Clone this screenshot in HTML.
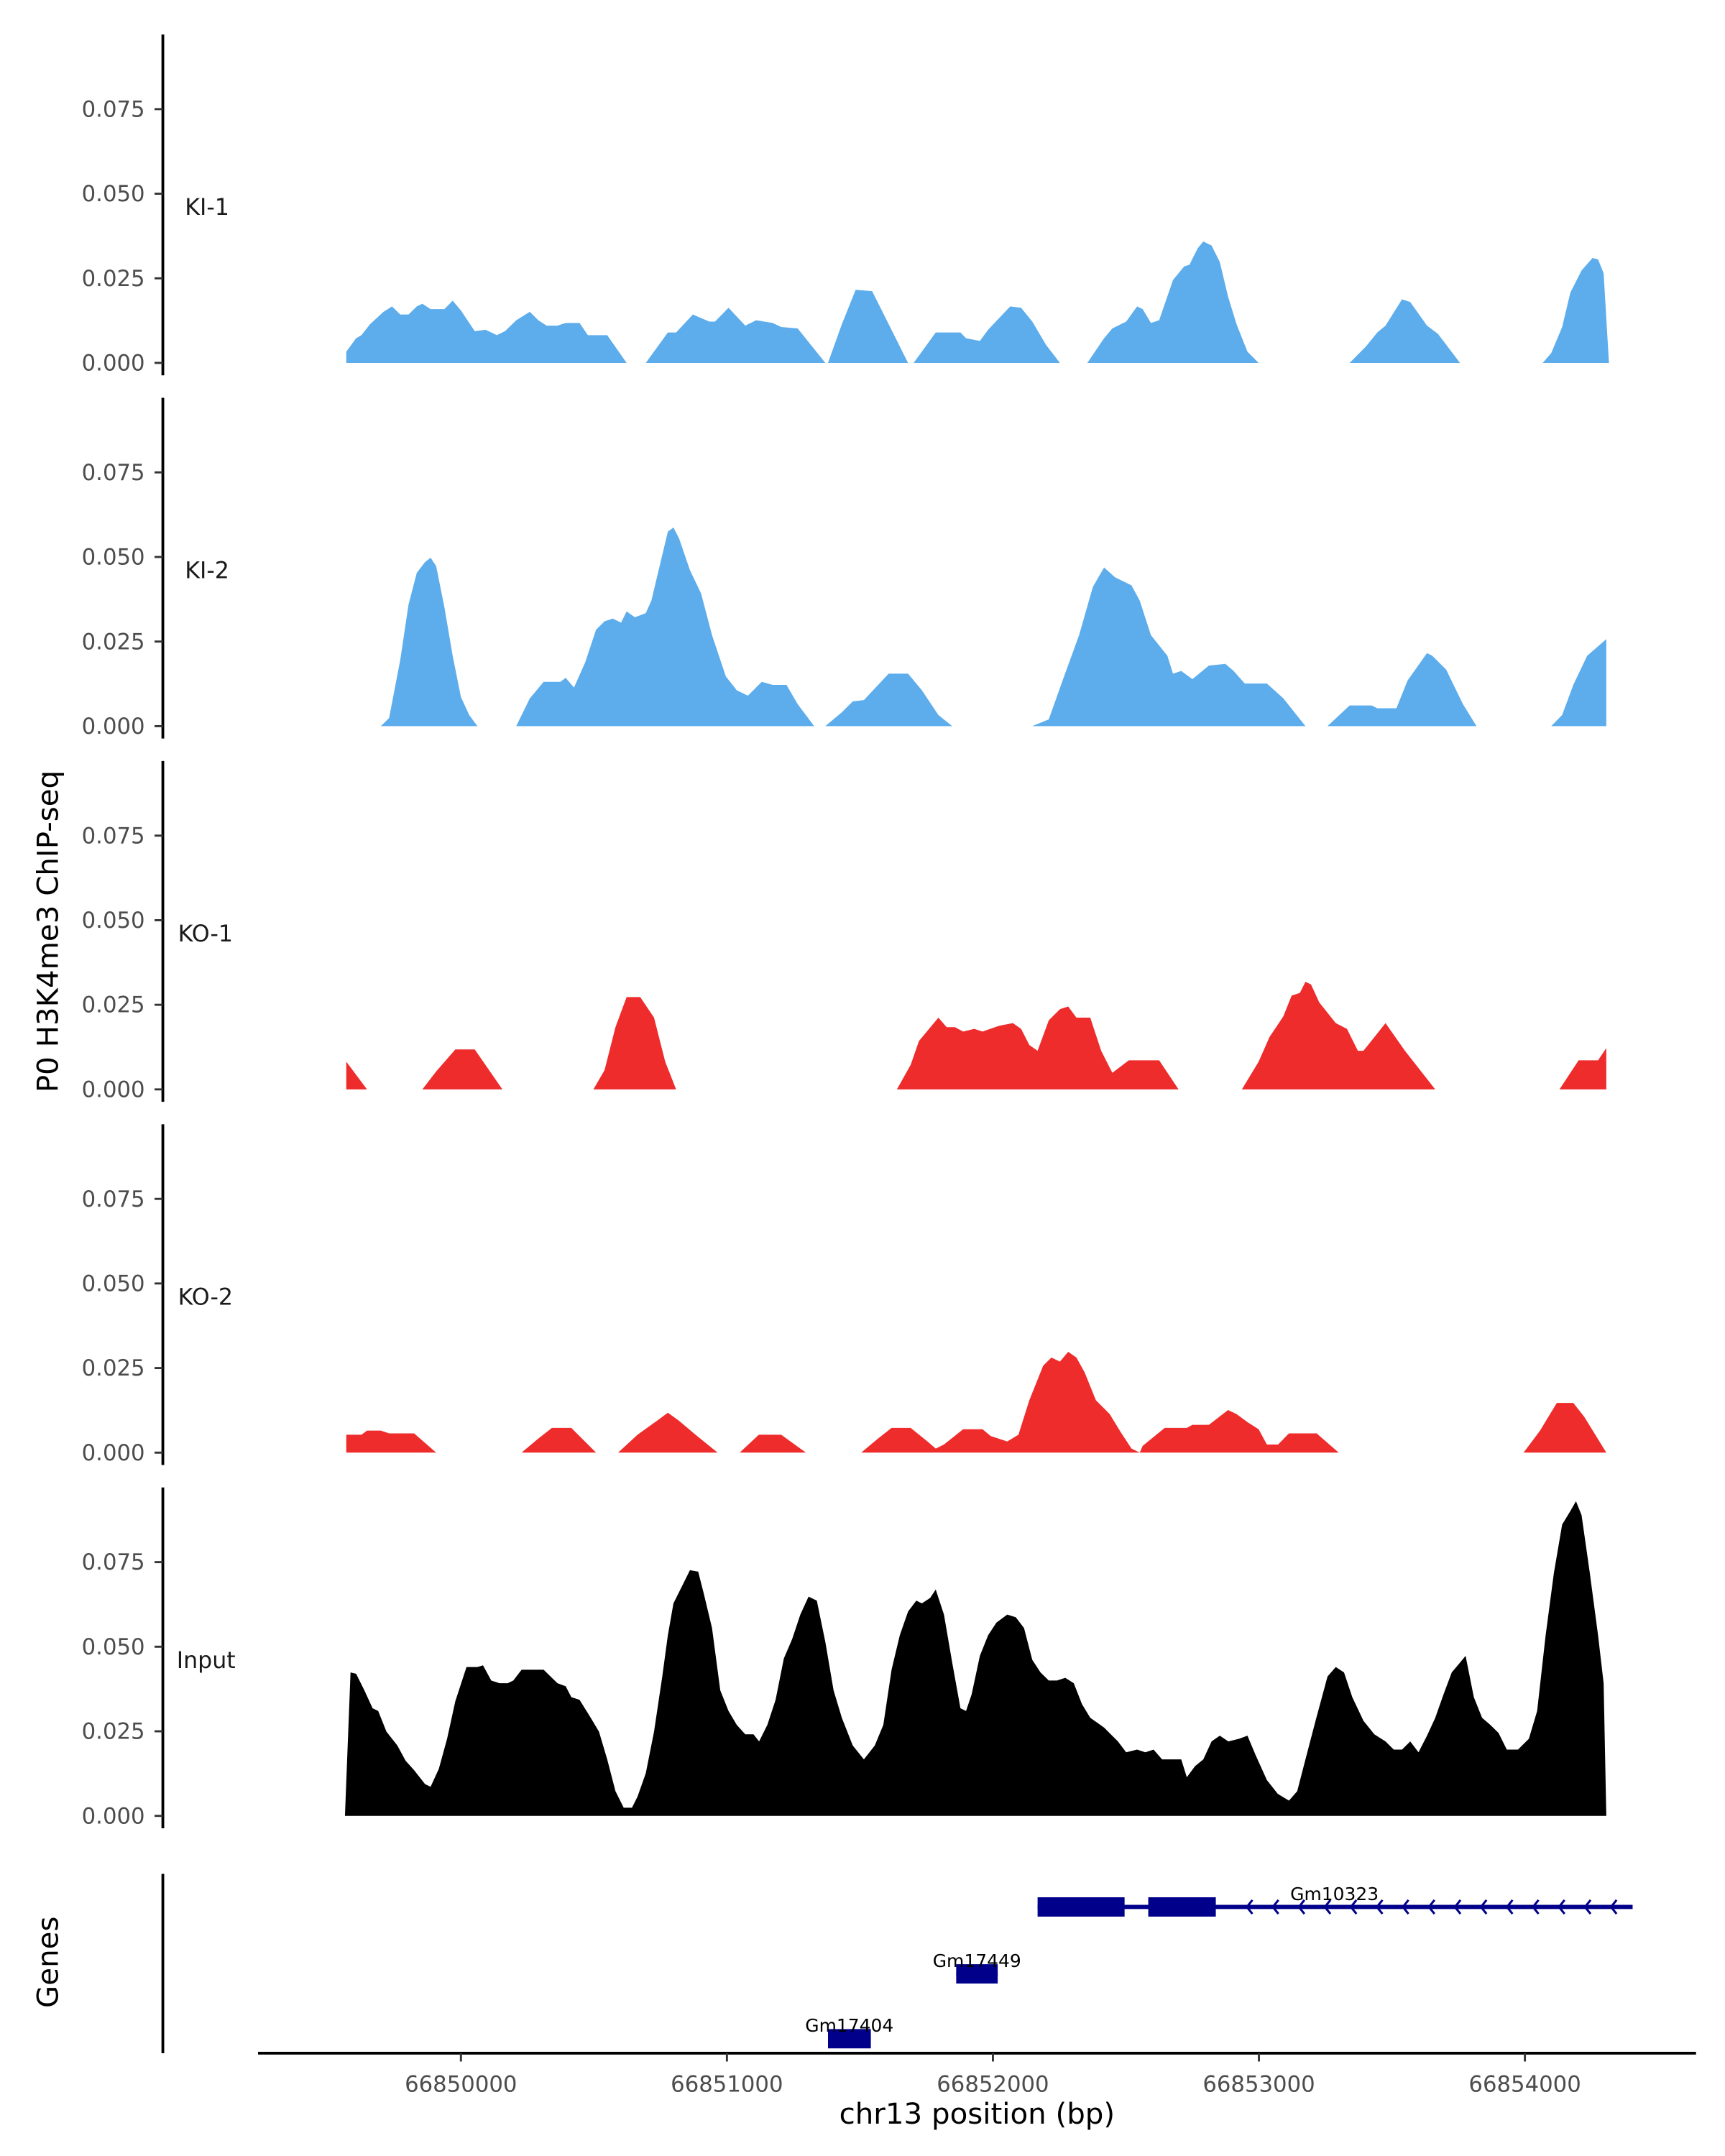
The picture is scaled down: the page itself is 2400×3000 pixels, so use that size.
<!DOCTYPE html>
<html><head><meta charset="utf-8"><style>
html,body{margin:0;padding:0;background:#fff}
svg{display:block}
text{font-family:"DejaVu Sans","Liberation Sans",sans-serif}
</style></head><body>
<svg id="chart" xmlns="http://www.w3.org/2000/svg" width="2400" height="3000" viewBox="0 0 1250 1562.5">
<rect width="1250" height="1562.5" fill="#fff"/>
<g id="tracks"></g>
<g id="genes"></g>
<g id="xaxis"></g>
<text x="0" y="0" transform="translate(42,675) rotate(-90)" text-anchor="middle" font-size="21" fill="#000">P0 H3K4me3 ChIP-seq</text>
<text x="0" y="0" transform="translate(42,1422) rotate(-90)" text-anchor="middle" font-size="21" fill="#000">Genes</text>
<text x="708" y="1539" text-anchor="middle" font-size="21" fill="#000">chr13 position (bp)</text>
</svg>
<script>
const BASE = 66850000;
const trackNames = ["KI-1","KI-2","KO-1","KO-2","Input"];
const trackColors = ["#5dadec","#5dadec","#ee2c2c","#ee2c2c","#000000"];
const yTicks = [0, 0.025, 0.05, 0.075];
const yTickLabels = ["0.000","0.025","0.050","0.075"];
const xTicks = [66850000, 66851000, 66852000, 66853000, 66854000];
const xTickLabels = ["66850000","66851000","66852000","66853000","66854000"];

const ki1 = [
 [[-431,0.0033],[-394,0.0073],[-374,0.0082],[-342,0.0114],[-291,0.0151],[-259,0.0167],[-228,0.0143],[-197,0.0143],[-166,0.0167],[-145,0.0175],[-114,0.0159],[-62,0.0159],[-31,0.0184],[0,0.0155],[52,0.0094],[93,0.0098],[135,0.0082],[166,0.0094],[208,0.0126],[259,0.0151],[291,0.0126],[322,0.011],[363,0.011],[394,0.0118],[446,0.0118],[477,0.0082],[550,0.0082],[623,0]],
 [[695,0],[778,0.009],[809,0.009],[872,0.0143],[934,0.0122],[955,0.0122],[1006,0.0163],[1069,0.011],[1110,0.0126],[1172,0.0118],[1204,0.0106],[1266,0.0102],[1370,0]],
 [[1380,0],[1432,0.0114],[1484,0.0216],[1546,0.0212],[1681,0]],
 [[1702,0],[1785,0.009],[1878,0.009],[1899,0.0073],[1951,0.0065],[1982,0.0098],[2065,0.0167],[2106,0.0163],[2148,0.0122],[2200,0.0053],[2252,0]],
 [[2355,0],[2418,0.0073],[2449,0.0102],[2501,0.0122],[2542,0.0167],[2563,0.0159],[2594,0.0118],[2625,0.0126],[2677,0.0245],[2719,0.0285],[2739,0.029],[2770,0.0339],[2791,0.0359],[2822,0.0347],[2853,0.0298],[2884,0.0196],[2916,0.0114],[2957,0.0033],[2999,0]],
 [[3341,0],[3403,0.0049],[3445,0.009],[3476,0.011],[3538,0.0188],[3569,0.018],[3632,0.011],[3673,0.0086],[3756,0]],
 [[4067,0],[4099,0.0029],[4140,0.0106],[4171,0.0208],[4213,0.0273],[4254,0.031],[4275,0.0306],[4296,0.0265],[4316,0]]
];
const ki2 = [
 [[-301,0],[-270,0.0024],[-228,0.0196],[-197,0.0359],[-166,0.0453],[-135,0.0485],[-114,0.0498],[-93,0.0473],[-62,0.0351],[-31,0.0208],[0,0.0086],[31,0.0033],[62,0]],
 [[208,0],[259,0.0082],[311,0.0131],[374,0.0131],[394,0.0143],[425,0.0114],[467,0.0188],[508,0.0285],[540,0.031],[571,0.0318],[602,0.0306],[623,0.0339],[654,0.0322],[695,0.0334],[716,0.0371],[747,0.0473],[778,0.0575],[799,0.0587],[820,0.0555],[861,0.0461],[903,0.0392],[944,0.0269],[996,0.0147],[1037,0.0106],[1079,0.009],[1131,0.0131],[1172,0.0122],[1224,0.0122],[1266,0.0065],[1328,0]],
 [[1370,0],[1432,0.0041],[1473,0.0073],[1515,0.0077],[1608,0.0155],[1681,0.0155],[1733,0.0106],[1795,0.0033],[1847,0]],
 [[2148,0],[2210,0.002],[2262,0.0135],[2324,0.0269],[2376,0.0412],[2418,0.0469],[2459,0.044],[2521,0.0416],[2552,0.0371],[2594,0.0269],[2656,0.0208],[2677,0.0155],[2708,0.0163],[2750,0.0139],[2812,0.0179],[2874,0.0184],[2905,0.0163],[2947,0.0126],[3030,0.0126],[3092,0.0082],[3175,0]],
 [[3258,0],[3341,0.0061],[3424,0.0061],[3445,0.0053],[3517,0.0053],[3559,0.0135],[3632,0.0216],[3652,0.0208],[3704,0.0167],[3767,0.0065],[3818,0]],
 [[4099,0],[4140,0.0033],[4182,0.0122],[4234,0.0208],[4306,0.0257],[4306,0]]
];
const ko1 = [
 [[-431,0.0082],[-353,0]],
 [[-145,0],[-93,0.0053],[-21,0.0118],[52,0.0118],[156,0]],
 [[498,0],[540,0.0057],[581,0.0184],[623,0.0273],[674,0.0273],[726,0.0212],[768,0.0082],[809,0]],
 [[1639,0],[1691,0.0073],[1722,0.0143],[1795,0.0212],[1826,0.0184],[1857,0.0184],[1888,0.0171],[1930,0.0179],[1961,0.0171],[2023,0.0188],[2075,0.0196],[2106,0.0179],[2137,0.0131],[2168,0.0114],[2210,0.0204],[2252,0.0237],[2283,0.0245],[2314,0.0212],[2366,0.0212],[2407,0.0114],[2449,0.0049],[2511,0.0086],[2625,0.0086],[2698,0]],
 [[2936,0],[2999,0.0082],[3040,0.0155],[3092,0.0216],[3123,0.0277],[3154,0.0285],[3175,0.0318],[3196,0.031],[3227,0.0257],[3289,0.0196],[3331,0.0179],[3372,0.0114],[3393,0.0114],[3476,0.0196],[3549,0.0114],[3663,0]],
 [[4130,0],[4202,0.0086],[4275,0.0086],[4306,0.0122],[4306,0]]
];
const ko2 = [
 [[-431,0.0053],[-374,0.0053],[-353,0.0065],[-301,0.0065],[-270,0.0057],[-176,0.0057],[-93,0]],
 [[228,0],[290,0.0041],[342,0.0073],[415,0.0073],[508,0]],
 [[591,0],[664,0.0053],[737,0.0094],[778,0.0118],[820,0.0094],[882,0.0053],[965,0]],
 [[1048,0],[1120,0.0053],[1204,0.0053],[1297,0]],
 [[1505,0],[1567,0.0041],[1619,0.0073],[1691,0.0073],[1754,0.0033],[1785,0.0012],[1816,0.0024],[1888,0.0069],[1961,0.0069],[1992,0.0049],[2054,0.0033],[2096,0.0053],[2137,0.0155],[2189,0.0257],[2220,0.0281],[2252,0.0269],[2283,0.0298],[2314,0.0281],[2345,0.0237],[2387,0.0155],[2439,0.0114],[2480,0.0061],[2521,0.0012],[2552,0],[2563,0.002],[2646,0.0073],[2729,0.0073],[2750,0.0082],[2812,0.0082],[2884,0.0126],[2916,0.0114],[2957,0.009],[2999,0.0069],[3030,0.0024],[3072,0.0024],[3113,0.0057],[3217,0.0057],[3300,0]],
 [[3995,0],[4057,0.0065],[4120,0.0147],[4182,0.0147],[4223,0.0106],[4306,0]]
];
const input = [
 [[-436,0],[-415,0.0424],[-394,0.042],[-363,0.0371],[-332,0.0318],[-311,0.031],[-280,0.0249],[-239,0.0208],[-208,0.0163],[-176,0.0135],[-135,0.0094],[-114,0.0086],[-83,0.0139],[-52,0.0228],[-21,0.0339],[21,0.044],[62,0.044],[83,0.0445],[114,0.04],[145,0.0392],[176,0.0392],[197,0.04],[228,0.0432],[311,0.0432],[342,0.0408],[363,0.0392],[394,0.0383],[415,0.0351],[446,0.0343],[488,0.029],[519,0.0249],[550,0.0167],[581,0.0073],[612,0.0024],[643,0.0024],[664,0.0057],[695,0.0126],[726,0.0249],[757,0.0412],[778,0.0534],[799,0.0628],[830,0.0677],[861,0.0726],[892,0.0722],[913,0.0657],[944,0.0555],[975,0.0371],[1006,0.031],[1037,0.0269],[1069,0.0241],[1100,0.0241],[1121,0.022],[1152,0.0269],[1183,0.0343],[1214,0.0465],[1245,0.0522],[1276,0.0595],[1307,0.0648],[1338,0.0636],[1370,0.0514],[1401,0.0371],[1432,0.029],[1473,0.0208],[1515,0.0167],[1556,0.0208],[1588,0.0269],[1619,0.0432],[1650,0.0534],[1681,0.0604],[1712,0.0636],[1733,0.0628],[1764,0.0644],[1785,0.0669],[1816,0.0595],[1847,0.0453],[1878,0.0318],[1899,0.031],[1920,0.0359],[1951,0.0473],[1982,0.0534],[2013,0.0571],[2054,0.0595],[2086,0.0587],[2117,0.0555],[2148,0.0461],[2179,0.0424],[2210,0.04],[2241,0.04],[2272,0.0408],[2304,0.0392],[2335,0.033],[2366,0.029],[2418,0.0261],[2470,0.022],[2501,0.0188],[2542,0.0196],[2573,0.0188],[2604,0.0196],[2636,0.0167],[2708,0.0167],[2729,0.0114],[2760,0.0147],[2791,0.0167],[2822,0.022],[2853,0.0237],[2885,0.022],[2926,0.0228],[2957,0.0237],[2988,0.0179],[3030,0.0106],[3071,0.0065],[3113,0.0045],[3144,0.0073],[3175,0.0167],[3216,0.029],[3258,0.0412],[3289,0.044],[3320,0.0424],[3351,0.0351],[3393,0.0281],[3434,0.0241],[3476,0.022],[3507,0.0196],[3538,0.0196],[3569,0.022],[3600,0.0188],[3632,0.0237],[3663,0.029],[3694,0.0359],[3725,0.0424],[3756,0.0453],[3777,0.0473],[3808,0.0351],[3839,0.029],[3870,0.0269],[3901,0.0245],[3932,0.0196],[3974,0.0196],[4015,0.0228],[4046,0.031],[4078,0.0534],[4109,0.0718],[4140,0.0861],[4171,0.0901],[4192,0.093],[4213,0.0889],[4244,0.0718],[4275,0.0534],[4296,0.0392],[4306,0]]
];
const trackData = [ki1, ki2, ko1, ko2, input];

const geneNames = ["Gm10323","Gm17449","Gm17404"];
const geneStarts = [2168, 1862, 1380];
const geneEnds = [4405, 2018, 1541];
const geneExons = [[[2168,2495],[2584,2838]], [[1862,2018]], [[1380,1541]]];

const NS = "http://www.w3.org/2000/svg";
function mk(tag, attrs, parent){const e=document.createElementNS(NS,tag);for(const k in attrs)e.setAttribute(k,attrs[k]);parent.appendChild(e);return e;}
const xScale = bp => 334 + (bp - BASE) * 0.19275;
const PANEL_ZERO0 = 263, PANEL_STEP = 263.25, PX_PER_UNIT = 2452;
function yScale(i, v){ return PANEL_ZERO0 + i*PANEL_STEP - v*PX_PER_UNIT; }

const tracks = document.getElementById('tracks');
trackNames.forEach((name, i) => {
  const g = mk('g', {}, tracks);
  
  
  const zero = yScale(i, 0);
  trackData[i].forEach((seg, s) => {
    let d = 'M' + xScale(BASE+seg[0][0]).toFixed(2) + ',' + zero.toFixed(2);
    seg.forEach(p => { d += 'L' + xScale(BASE+p[0]).toFixed(2) + ',' + yScale(i, p[1]).toFixed(2); });
    d += 'L' + xScale(BASE+seg[seg.length-1][0]).toFixed(2) + ',' + zero.toFixed(2) + 'Z';
    const p = mk('path', {d: d, fill: trackColors[i]}, g);
    
    
  });
  const ax = mk('line', {x1:118, x2:118, y1: zero-238, y2: zero+9, stroke:'#000', 'stroke-width':2}, g);
  
  
  yTicks.forEach((t, k) => {
    const y = yScale(i, t);
    const tk = mk('line', {x1:112, x2:118, y1:y, y2:y, stroke:'#333', 'stroke-width':1.5}, g);
    
    
    const tl = mk('text', {x:105, y:y+5.5, 'text-anchor':'end', 'font-size':16, fill:'#4d4d4d'}, g);
    tl.textContent = yTickLabels[k];
    
    
  });
  const lbl = mk('text', {x: (i<2?134:129) - (i===4?1:0), y: yScale(i,0.0435)-0.5, 'font-size':16.5, fill:'#1a1a1a'}, g);
  lbl.textContent = name;
  
  
});

const genes = document.getElementById('genes');
const gax = mk('line', {x1:118, x2:118, y1:1358, y2:1488, stroke:'#000', 'stroke-width':2}, genes);


const geneRowY = [1382, 1430.5, 1477.5];
geneNames.forEach((n, i) => {
  const g = mk('g', {}, genes);
  
  
  const y = geneRowY[i];
  const ln = mk('line', {x1:xScale(BASE+geneStarts[i]), x2:xScale(BASE+geneEnds[i]), y1:y, y2:y, stroke:'#00008b', 'stroke-width':3}, g);
  
  
  geneExons[i].forEach(ex => {
    const r = mk('rect', {x:xScale(BASE+ex[0]), y:y-7, width:xScale(BASE+ex[1])-xScale(BASE+ex[0]), height:14, fill:'#00008b'}, g);
    
    
  });
  const lastEx = geneExons[i][geneExons[i].length-1][1];
  if (geneEnds[i] > lastEx) {
    for (let x = xScale(BASE+lastEx)+24; x < xScale(BASE+geneEnds[i])-5; x += 18.85) {
      const c = mk('path', {d:'M'+(x+2.5)+','+(y-5)+'L'+(x-1.5)+','+y+'L'+(x+2.5)+','+(y+5), fill:'none', stroke:'#00008b', 'stroke-width':1.6}, g);
      
      
    }
  }
  const tx = i===0 ? 967 : (xScale(BASE+geneStarts[i])+xScale(BASE+geneEnds[i]))/2;
  const t = mk('text', {x:tx, y:y-5, 'text-anchor':'middle', 'font-size':13, fill:'#000'}, g);
  t.textContent = n;
  
  
});

const xa = document.getElementById('xaxis');
const xl = mk('line', {x1:187, x2:1229, y1:1488, y2:1488, stroke:'#000', 'stroke-width':2}, xa);


xTicks.forEach((t, k) => {
  const x = xScale(t);
  const tk = mk('line', {x1:x, x2:x, y1:1488, y2:1494, stroke:'#333', 'stroke-width':1.5}, xa);
  
  
  const tl = mk('text', {x:x, y:1516, 'text-anchor':'middle', 'font-size':16, fill:'#4d4d4d'}, xa);
  tl.textContent = xTickLabels[k];
  
  
});
</script>
</body></html>
